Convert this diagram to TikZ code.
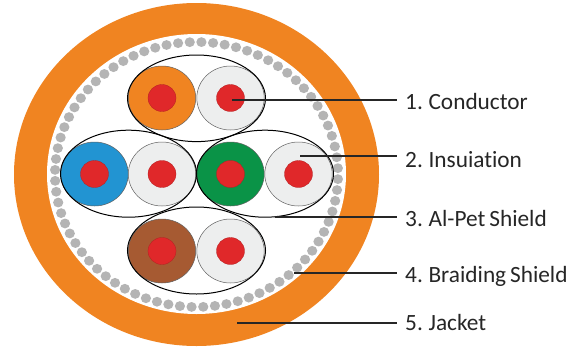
\documentclass[tikz,border=0pt]{standalone}
\usepackage{fontspec}
\setmainfont{Carlito}[Ligatures=NoCommon,WordSpace=0.75]
\definecolor{jacket}{HTML}{F08421}
\definecolor{bead}{HTML}{B4B4B4}
\definecolor{wireblue}{HTML}{2294D2}
\definecolor{wiregreen}{HTML}{0A9347}
\definecolor{wirebrown}{HTML}{A65A32}
\definecolor{wirewhite}{HTML}{EDEEEE}
\definecolor{core}{HTML}{E0282A}
\definecolor{ink}{HTML}{262626}
\tikzset{
  wirefill/.style={draw=gray!75!black,line width=0.5pt},
  foil/.style={draw=black,line width=1pt},
  leader/.style={draw=ink,line width=1.6pt},
  lab/.style={anchor=base west,inner xsep=8pt,inner ysep=0pt,text=ink,font=\fontsize{23.3}{27}\selectfont}
}
\newcommand{\wire}[3]{%
  \path[wirefill,fill=#3] (#1,#2) ellipse [x radius=33.7,y radius=32];
  \path[fill=core,draw=core!80!black,line width=0.3pt] (#1,#2) ellipse [x radius=14,y radius=13.5];
}
\begin{document}
\begin{tikzpicture}[x=1pt,y=-1pt]
\useasboundingbox (0,0) rectangle (579,349);
\fill[white] (0,0) rectangle (579,349);
\fill[jacket] (196.5,174.5) ellipse [x radius=182.5,y radius=171.5];
\fill[white] (196.5,174) ellipse [x radius=149.5,y radius=140];
\foreach \i in {0,...,75}
  \fill[bead] ({196.5+141.5*cos(\i*4.7368+2)},{174.5+132.5*sin(\i*4.7368+2)}) ellipse [x radius=5.1,y radius=4.9];
\wire{162}{98}{jacket}
\wire{230.5}{98}{wirewhite}
\wire{94.5}{174}{wireblue}
\wire{162}{174}{wirewhite}
\wire{230.5}{174}{wiregreen}
\wire{298.5}{174}{wirewhite}
\wire{162}{251}{wirebrown}
\wire{230.5}{251}{wirewhite}
\draw[foil] (196.5,98.3) ellipse [x radius=69,y radius=43.3];
\draw[foil] (128.5,173.7) ellipse [x radius=68,y radius=43.5];
\draw[foil] (265,173.7) ellipse [x radius=68.5,y radius=43.5];
\draw[foil] (196.5,250.5) ellipse [x radius=69,y radius=43.5];
\node[lab] (l1) at (397,109) {1. Conductor};
\node[lab] (l2) at (397,167.5) {2. Insuiation};
\node[lab] (l3) at (397,226) {3. Al-Pet Shield};
\node[lab] (l4) at (397,282) {4. Braiding Shield};
\node[lab] (l5) at (397,330) {5. Jacket};
\coordinate (c1) at (232,100);
\coordinate (c2) at (300,155.7);
\coordinate (c3) at (275,217);
\coordinate (c4) at (294,273);
\coordinate (c5) at (237,323);
\foreach \n in {1,...,5}
  \draw[leader] (c\n) -- (c\n -| l\n.west);
\end{tikzpicture}
\end{document}
